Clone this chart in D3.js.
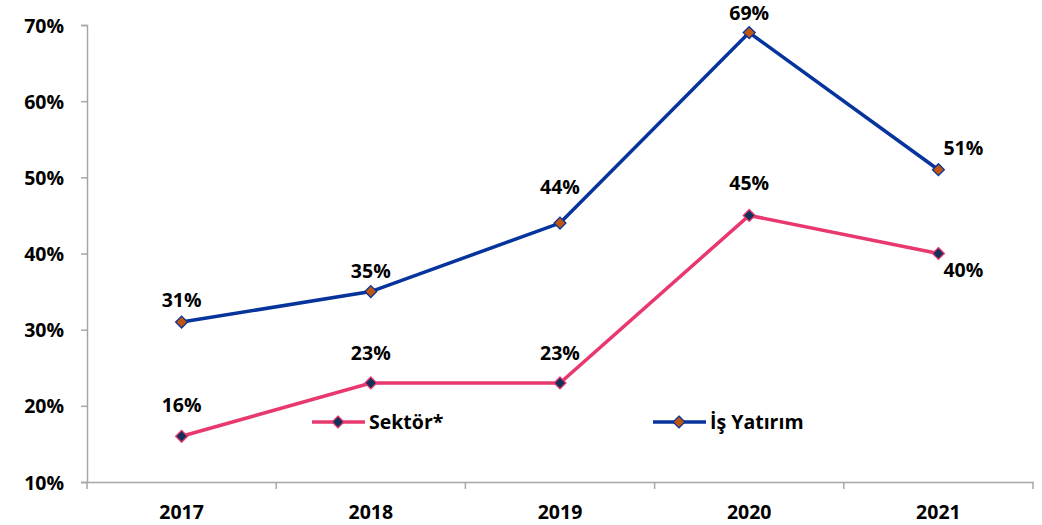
<!DOCTYPE html>
<html>
<head>
<meta charset="utf-8">
<script src="https://cdn.jsdelivr.net/npm/d3@7"></script>
<style>
  body { margin: 0; background: #fff; }
  text { font-family: "Open Sans", "Liberation Sans", sans-serif; font-weight: bold; fill: #000; }
</style>
</head>
<body>
<svg width="1042" height="525"></svg>
<script>
const years = ["2017", "2018", "2019", "2020", "2021"];
const sektor = [16, 23, 23, 45, 40];
const isYatirim = [31, 35, 44, 69, 51];
const yTicks = [10, 20, 30, 40, 50, 60, 70];
// label placement per point: [dx, dy]
const sektorLabelPos = [[0, -31], [0, -30], [0, -30], [0, -32], [25, 16]];
const isLabelPos = [[0, -22], [0, -21], [0, -36], [0, -20], [25, -22]];

const svg = d3.select("svg");
const plotLeft = 87, plotRight = 1033, plotTop = 25, plotBottom = 482;
const fontSize = 19.5;

const x = d3.scaleBand().domain(years).range([plotLeft, plotRight]);
const y = d3.scaleLinear().domain([10, 70]).range([plotBottom, plotTop]);
const cx = d => x(d) + x.bandwidth() / 2;

// axes
const yAxis = svg.append("g")
  .attr("transform", `translate(${plotLeft},0)`)
  .call(d3.axisLeft(y).tickValues(yTicks).tickSize(6).tickPadding(17).tickFormat(d => d + "%"));
const xAxis = svg.append("g")
  .attr("transform", `translate(0,${plotBottom})`)
  .call(d3.axisBottom(x).tickSize(0).tickPadding(23));
// x ticks at band boundaries
xAxis.selectAll(".bt")
  .data(years.map(d => x(d)).concat([plotRight]))
  .enter().append("line")
  .attr("x1", d => d).attr("x2", d => d)
  .attr("y1", 0).attr("y2", 7)
  .attr("stroke", "#a6a6a6").attr("stroke-width", 1.5);

[yAxis, xAxis].forEach(g => {
  g.select(".domain").attr("stroke", "#a6a6a6").attr("stroke-width", 1.5);
  g.selectAll(".tick line").attr("stroke", "#a6a6a6").attr("stroke-width", 1.5);
  g.selectAll(".tick text").attr("font-size", fontSize).attr("fill", "#000")
    .style("font-family", "'Open Sans', 'Liberation Sans', sans-serif").style("font-weight", "bold");
});
yAxis.selectAll(".tick text").attr("dy", "0.36em");

const series = [
  { name: "Sektör*", values: sektor, line: "#e8386e", fill: "#13325b", pos: sektorLabelPos },
  { name: "İş Yatırım", values: isYatirim, line: "#06349c", fill: "#c0560d", pos: isLabelPos }
];

const line = d3.line().x((d, i) => cx(years[i])).y(d => y(d));
const diamond = d3.symbol().type(d3.symbolDiamond2).size(90);

series.forEach(s => {
  svg.append("path")
    .attr("d", line(s.values))
    .attr("fill", "none")
    .attr("stroke", s.line)
    .attr("stroke-width", 3.5);

  svg.selectAll(null)
    .data(s.values)
    .enter().append("path")
    .attr("d", diamond)
    .attr("transform", (d, i) => `translate(${cx(years[i])},${y(d)})`)
    .attr("fill", s.fill)
    .attr("stroke", s.line)
    .attr("stroke-width", 1.3);

  svg.selectAll(null)
    .data(s.values)
    .enter().append("text")
    .attr("x", (d, i) => cx(years[i]) + s.pos[i][0])
    .attr("y", (d, i) => y(d) + s.pos[i][1])
    .attr("dy", "0.36em")
    .attr("text-anchor", "middle")
    .attr("font-size", fontSize)
    .text(d => d + "%");
});

// legend
const legendX = [312, 653];
series.forEach((s, i) => {
  const g = svg.append("g").attr("transform", `translate(${legendX[i]},422)`);
  g.append("line").attr("x1", 0).attr("x2", 53).attr("stroke", s.line).attr("stroke-width", 3.5);
  g.append("path").attr("d", diamond).attr("transform", "translate(26,0)")
    .attr("fill", s.fill).attr("stroke", s.line).attr("stroke-width", 1.3);
  g.append("text").attr("x", 57).attr("dy", "0.36em").attr("font-size", fontSize).text(s.name);
});
</script>
</body>
</html>
